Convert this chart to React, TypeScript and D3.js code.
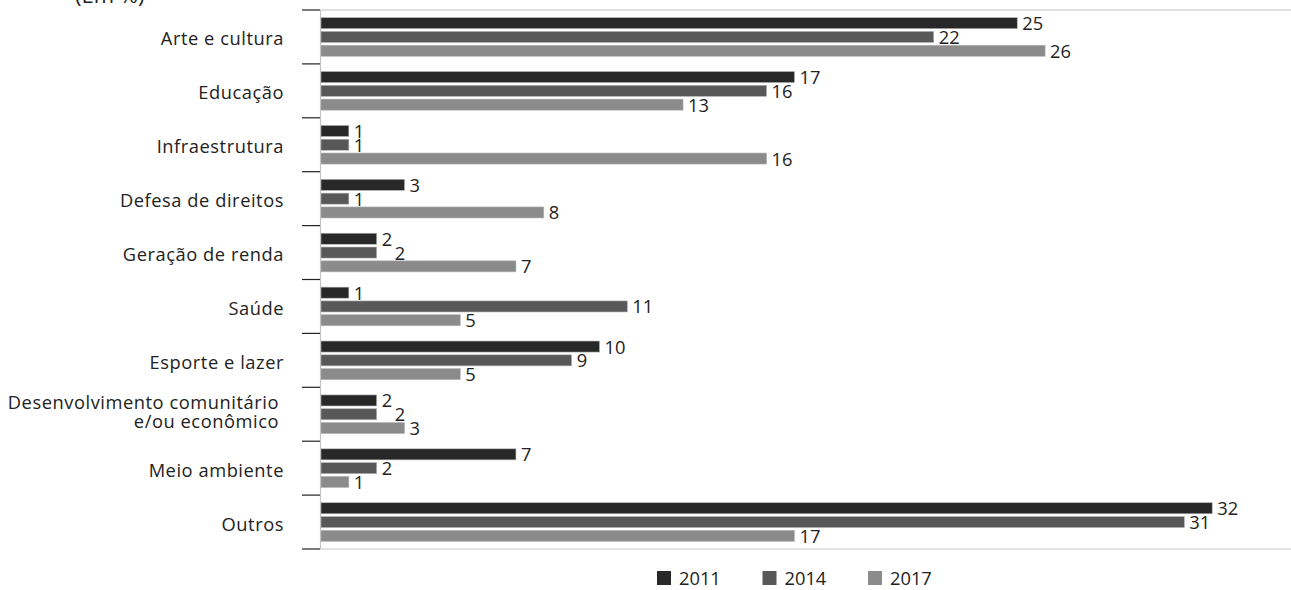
import React from "react";
import * as d3 from "d3";

const categories = [
  "Arte e cultura",
  "Educação",
  "Infraestrutura",
  "Defesa de direitos",
  "Geração de renda",
  "Saúde",
  "Esporte e lazer",
  "Desenvolvimento comunitário\ne/ou econômico",
  "Meio ambiente",
  "Outros",
];

const seriesNames = ["2011", "2014", "2017"];

const values2011 = [25, 17, 1, 3, 2, 1, 10, 2, 7, 32];
const values2014 = [22, 16, 1, 1, 2, 11, 9, 2, 2, 31];
const values2017 = [26, 13, 16, 8, 7, 5, 5, 3, 1, 17];

const seriesColors = ["#282828", "#585858", "#8b8b8b"];

const unitLabel = "(Em %)";

const W = 1291;
const H = 590;
const FONT = "'Open Sans', 'Noto Sans', sans-serif";

export default function App() {
  const plotLeft = 320.5;
  const plotTop = 10;
  const plotBottom = 549;

  const y = d3
    .scaleBand<string>()
    .domain(categories)
    .range([plotTop, plotBottom])
    .paddingInner(0.232)
    .paddingOuter(0.116);

  const yInner = d3
    .scaleBand<string>()
    .domain(seriesNames)
    .range([0, y.bandwidth()])
    .paddingInner(0.2)
    .paddingOuter(0.1);

  const x = d3.scaleLinear().domain([0, 35]).range([321, 321 + 35 * 27.85]);

  const allSeries = [values2011, values2014, values2017];

  const boundaries = d3.range(categories.length + 1).map(
    (i) => plotTop + i * y.step()
  );

  return (
    <svg
      width={W}
      height={H}
      style={{ position: "absolute", left: 0, top: 0, background: "#fff" }}
      fontFamily={FONT}
    >
      <text x={75} y={3} fontSize={22} fill="#222">
        {unitLabel}
      </text>

      {/* frame lines */}
      <line x1={plotLeft} x2={W} y1={plotTop} y2={plotTop} stroke="#c4c4c4" strokeWidth={1.2} />
      <line x1={plotLeft} x2={W} y1={plotBottom} y2={plotBottom} stroke="#c4c4c4" strokeWidth={1.2} />
      <line x1={plotLeft} x2={plotLeft} y1={plotTop} y2={plotBottom} stroke="#c4c4c4" strokeWidth={1.2} />

      {/* category tick marks */}
      {boundaries.map((b, i) => (
        <line key={i} x1={302} x2={plotLeft - 0.5} y1={b} y2={b} stroke="#222" strokeWidth={1.2} />
      ))}

      {/* category labels */}
      {categories.map((c) => {
        const lines = c.split("\n");
        const center = y(c)! + y.bandwidth() / 2;
        return (
          <text key={c} textAnchor="end" fontSize={18.3} letterSpacing={0.55} fill="#222">
            {lines.length === 1 ? (
              <tspan x={284} y={center + 8.5}>{c}</tspan>
            ) : (
              lines.map((l, k) => (
                <tspan key={k} x={279} y={center - 5.5 + k * 19}>
                  {l}
                </tspan>
              ))
            )}
          </text>
        );
      })}

      {/* bars and value labels */}
      {categories.map((c, ci) => {
        let prevValue: number | null = null;
        let prevX = 0;
        return (
          <g key={c} transform={`translate(0,${y(c)})`}>
            {seriesNames.map((s, si) => {
              const v = allSeries[si][ci];
              const by = yInner(s)!;
              const bh = yInner.bandwidth();
              let lx = x(v) + 5;
              // stacked equal labels wider than "1" are pushed sideways to stay legible
              if (prevValue === v && v > 1) lx = prevX + 13;
              prevValue = v;
              prevX = lx;
              return (
                <g key={s}>
                  <rect
                    x={x(0)}
                    y={by}
                    width={x(v) - x(0)}
                    height={bh}
                    fill={seriesColors[si]}
                    stroke="#b5b5b5"
                    strokeWidth={0.6}
                  />
                  <text x={lx} y={by + bh / 2 + 7} fontSize={18.3} fill="#222">
                    {v}
                  </text>
                </g>
              );
            })}
          </g>
        );
      })}

      {/* legend */}
      {seriesNames.map((s, i) => {
        const lx = 657 + i * 105.5;
        return (
          <g key={s}>
            <rect x={lx} y={571} width={14} height={14} fill={seriesColors[i]} />
            <text x={lx + 22} y={585} fontSize={18.3} fill="#222">
              {s}
            </text>
          </g>
        );
      })}
    </svg>
  );
}
